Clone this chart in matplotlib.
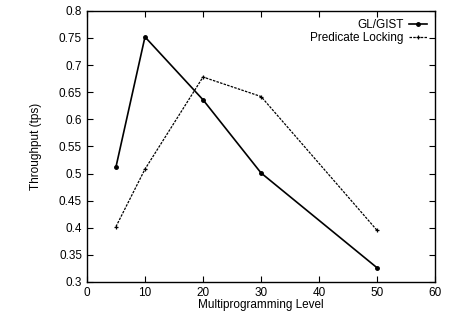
import matplotlib
matplotlib.use("Agg")
import matplotlib.pyplot as plt

plt.rcParams['font.family'] = ['Liberation Sans', 'DejaVu Sans']

# niveles de multiprogramacion
mpl_levels = [5, 10, 20, 30, 50]
gist_tps = [0.512, 0.752, 0.636, 0.501, 0.326]
pred_tps = [0.402, 0.508, 0.678, 0.642, 0.395]

xticks = [0, 10, 20, 30, 40, 50, 60]
yticks = [0.3, 0.35, 0.4, 0.45, 0.5, 0.55, 0.6, 0.65, 0.7, 0.75, 0.8]

fig = plt.figure(figsize=(4.6, 3.2), dpi=100)
ax = fig.add_axes([0.189, 0.119, 0.757, 0.847])

ax.plot(mpl_levels, gist_tps, color='black', lw=1.2, marker='o', ms=2.5, label='GL/GIST')
ax.plot(mpl_levels, pred_tps, color='black', lw=0.9, ls=(0, (2, 1)), marker='+', ms=3.5,
        mew=0.9, label='Predicate Locking')

ax.set_xlim(0, 60)
ax.set_ylim(0.3, 0.8)
ax.set_xticks(xticks)
ax.set_yticks(yticks)
ax.set_yticklabels([f'{v:g}' for v in yticks])
ax.tick_params(direction='in', labelsize=8.5, length=4, width=0.8,
               top=True, right=True)
ax.tick_params(axis='x', pad=4)
for s in ax.spines.values():
    s.set_linewidth(1.0)

ax.set_xlabel('Multiprogramming Level', fontsize=8.5, labelpad=0)
ax.set_ylabel('Throughput (tps)', fontsize=8.5, labelpad=12)

leg = ax.legend(loc='upper right', frameon=False, fontsize=8.5, markerfirst=False,
                handlelength=1.5, borderaxespad=0.3, labelspacing=0.05, handletextpad=0.5)

fig.savefig('out.png', dpi=100)
